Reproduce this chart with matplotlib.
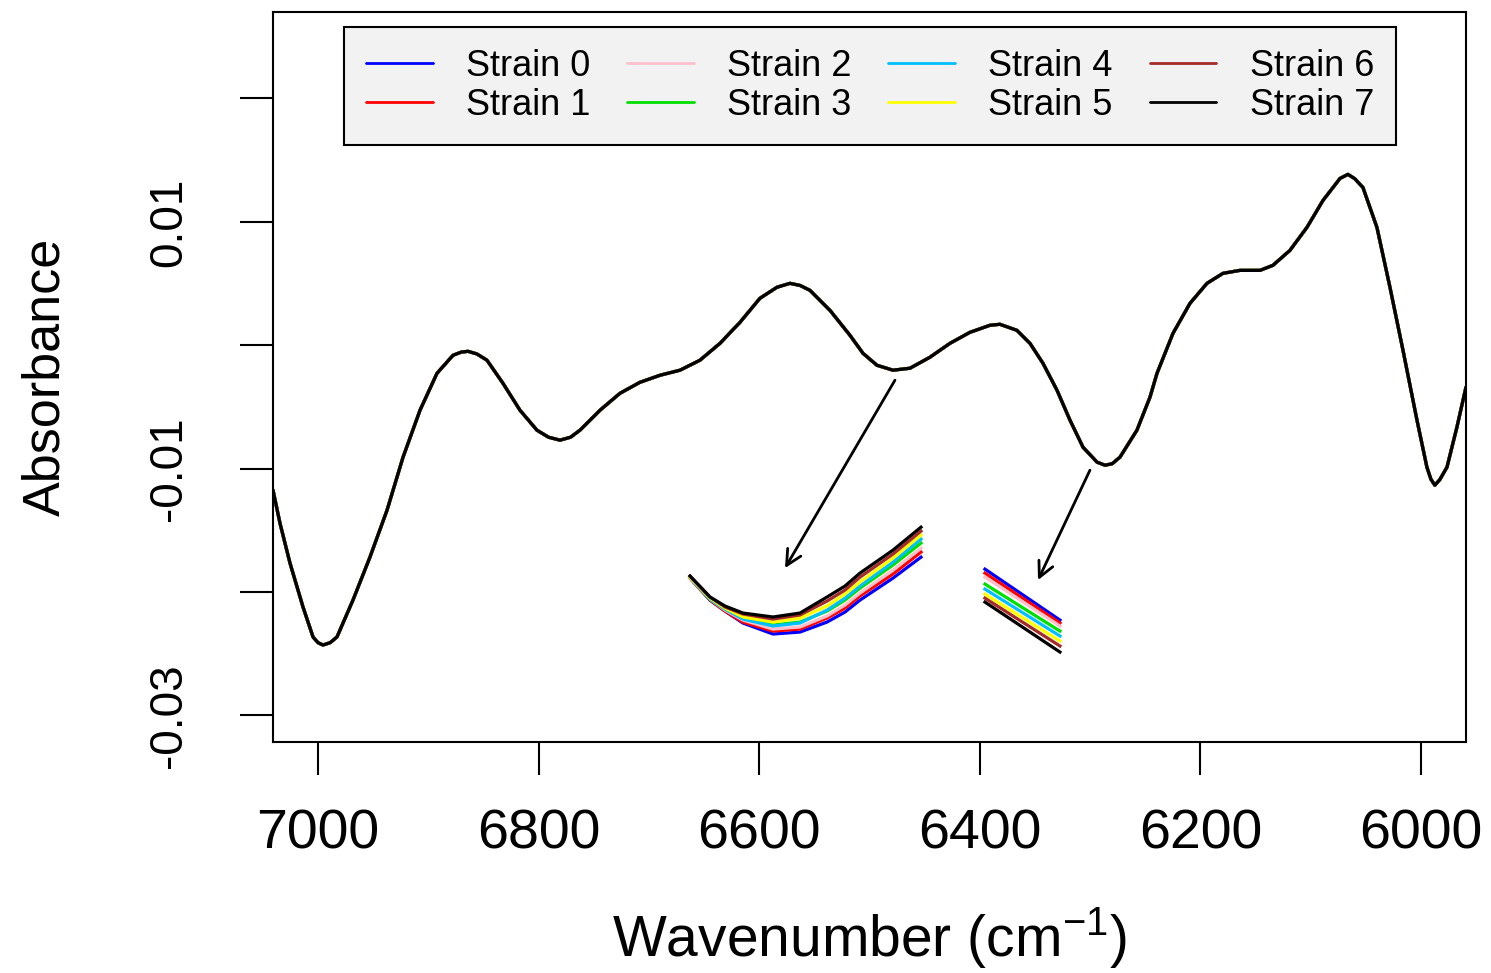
#!/usr/bin/env python3
"""
NIR second-derivative spectra of eight strains, 7040-5960 cm-1,
with two magnified insets showing how the strains separate.
"""

import numpy as np
import matplotlib
matplotlib.use('Agg')
import matplotlib.pyplot as plt

plt.rcParams['font.family'] = ['Liberation Sans', 'DejaVu Sans']
plt.rcParams['mathtext.fontset'] = 'custom'
plt.rcParams['mathtext.rm'] = 'Liberation Sans'
plt.rcParams['mathtext.it'] = 'Liberation Sans:italic'

# strains and their colours (R colour names)
strains = ['Strain 0', 'Strain 1', 'Strain 2', 'Strain 3',
           'Strain 4', 'Strain 5', 'Strain 6', 'Strain 7']
colors = ['#0000ff', '#ff0000', '#ffc0cb', '#00e000',
          '#00bfff', '#ffff00', '#a52a2a', '#000000']

# full spectrum (at this scale the strains overlap)
wavenumber = [7040.8, 7034.5, 7025.4, 7013.6, 7004.5, 7000.0, 6995.5, 6989.0, 6982.8,
              6968.3, 6952.9, 6937.4, 6922.9, 6907.5, 6892.1, 6877.6, 6870.0, 6864.0,
              6856.0, 6846.8, 6832.3, 6816.9, 6801.5, 6791.0, 6780.6, 6771.0, 6762.5,
              6744.3, 6726.2, 6708.1, 6689.9, 6671.8, 6653.7, 6635.5, 6617.4, 6599.3,
              6583.9, 6572.1, 6563.0, 6553.9, 6535.8, 6517.7, 6505.9, 6493.2, 6478.7,
              6463.3, 6445.2, 6427.0, 6408.9, 6390.8, 6381.7, 6366.3, 6354.5, 6342.7,
              6330.0, 6318.2, 6306.4, 6293.7, 6286.5, 6280.0, 6272.9, 6257.5, 6245.7,
              6239.3, 6224.8, 6209.4, 6194.0, 6179.5, 6164.1, 6145.9, 6134.2, 6118.8,
              6103.4, 6088.8, 6073.4, 6066.2, 6060.0, 6052.6, 6039.9, 6028.1, 6016.3,
              6003.6, 5994.6, 5991.0, 5987.4, 5983.0, 5976.4, 5967.4, 5959.2]
absorbance = [-0.01174, -0.01441, -0.01765, -0.02121, -0.02364, -0.02410, -0.02429, -0.02410, -0.02364,
              -0.02065, -0.01717, -0.01336, -0.00907, -0.00526, -0.00227, -0.00081, -0.00055, -0.00049,
              -0.00070, -0.00121, -0.00308, -0.00526, -0.00688, -0.00745, -0.00769, -0.00745, -0.00688,
              -0.00526, -0.00389, -0.00300, -0.00243, -0.00202, -0.00121, 0.00016, 0.00186, 0.00381,
              0.00470, 0.00502, 0.00485, 0.00445, 0.00283, 0.00081, -0.00065, -0.00162, -0.00202,
              -0.00186, -0.00097, 0.00016, 0.00105, 0.00162, 0.00170, 0.00121, 0.00016, -0.00146,
              -0.00364, -0.00607, -0.00826, -0.00947, -0.00972, -0.00960, -0.00907, -0.00688, -0.00421,
              -0.00227, 0.00097, 0.00340, 0.00502, 0.00583, 0.00607, 0.00607, 0.00648, 0.00769,
              0.00955, 0.01174, 0.01352, 0.01385, 0.01350, 0.01279, 0.00955, 0.00470, -0.00040,
              -0.00607, -0.00988, -0.01085, -0.01134, -0.01090, -0.00988, -0.00664, -0.00340]

# magnified inset 1 (drawn below the 6480 band)
inset1_x = [6662.7, 6644.6, 6631.0, 6614.7, 6587.5, 6563.0, 6538.5, 6522.2, 6508.6, 6478.7, 6453.3]
inset1_s0 = [-0.01887, -0.02065, -0.02154, -0.02251, -0.02340, -0.02324, -0.02243, -0.02162, -0.02065, -0.01887, -0.01717]
inset1_s1 = [-0.01887, -0.02065, -0.02154, -0.02243, -0.02316, -0.02300, -0.02211, -0.02130, -0.02032, -0.01854, -0.01676]
inset1_s2 = [-0.01887, -0.02057, -0.02146, -0.02227, -0.02300, -0.02283, -0.02194, -0.02105, -0.02008, -0.01822, -0.01644]
inset1_s3 = [-0.01879, -0.02057, -0.02138, -0.02211, -0.02267, -0.02243, -0.02154, -0.02065, -0.01968, -0.01781, -0.01603]
inset1_s4 = [-0.01879, -0.02057, -0.02138, -0.02219, -0.02275, -0.02251, -0.02146, -0.02049, -0.01951, -0.01757, -0.01571]
inset1_s5 = [-0.01879, -0.02049, -0.02130, -0.02202, -0.02243, -0.02211, -0.02113, -0.02016, -0.01919, -0.01725, -0.01538]
inset1_s6 = [-0.01870, -0.02040, -0.02121, -0.02178, -0.02219, -0.02186, -0.02073, -0.01984, -0.01879, -0.01692, -0.01506]
inset1_s7 = [-0.01870, -0.02040, -0.02113, -0.02170, -0.02202, -0.02170, -0.02040, -0.01951, -0.01846, -0.01660, -0.01474]

# magnified inset 2 (the 6300 band slope)
inset2_x = [6395.3, 6327.3]
inset2_s0 = [-0.01814, -0.02227]
inset2_s1 = [-0.01846, -0.02251]
inset2_s2 = [-0.01879, -0.02275]
inset2_s3 = [-0.01935, -0.02316]
inset2_s4 = [-0.01976, -0.02356]
inset2_s5 = [-0.02016, -0.02397]
inset2_s6 = [-0.02049, -0.02437]
inset2_s7 = [-0.02081, -0.02486]

inset1 = [inset1_s0, inset1_s1, inset1_s2, inset1_s3, inset1_s4, inset1_s5, inset1_s6, inset1_s7]
inset2 = [inset2_s0, inset2_s1, inset2_s2, inset2_s3, inset2_s4, inset2_s5, inset2_s6, inset2_s7]

yticks = [-0.03, -0.02, -0.01, 0.0, 0.01, 0.02]
ytick_labels = ['-0.03', '', '-0.01', '', '0.01', '']
xticks = [7000, 6800, 6600, 6400, 6200, 6000]

fig = plt.figure(figsize=(14.91, 9.73), dpi=100)
ax = fig.add_axes([0.1831, 0.2374, 0.8001, 0.7503])

for name, col in zip(strains, colors):
    ax.plot(wavenumber, absorbance, color=col, linewidth=2.3, label=name,
            solid_joinstyle='round', solid_capstyle='round')

for ys, col in zip(inset1, colors):
    ax.plot(inset1_x, ys, color=col, linewidth=2.3, solid_joinstyle='round')
for ys, col in zip(inset2, colors):
    ax.plot(inset2_x, ys, color=col, linewidth=2.3)

# arrows from the bands to their magnified views
arrow_kw = dict(arrowstyle='->,head_length=1.1,head_width=0.55', color='black', lw=2.0,
                shrinkA=0, shrinkB=0)
ax.annotate('', xy=(6576.6, -0.01806), xytext=(6476.9, -0.00283), arrowprops=arrow_kw)
ax.annotate('', xy=(6347.2, -0.01903), xytext=(6300.1, -0.01012), arrowprops=arrow_kw)

ax.set_xlim(7040.8, 5959.2)
ax.set_ylim(-0.03215, 0.02701)
ax.set_xticks(xticks)
ax.set_xticklabels([str(t) for t in xticks])
ax.set_yticks(yticks)
ax.set_yticklabels(ytick_labels)
for lbl in ax.get_yticklabels():
    lbl.set_rotation(90)
    lbl.set_va('center')

ax.tick_params(axis='x', direction='out', length=24, width=1.5, pad=24, labelsize=40)
ax.tick_params(axis='y', direction='out', length=24, width=1.5, pad=35, labelsize=33)
for spine in ax.spines.values():
    spine.set_linewidth(1.5)

ax.set_xlabel('Wavenumber (cm$^{-1}$)', fontsize=41, labelpad=32)
ax.set_ylabel('Absorbance', fontsize=37.5, labelpad=55)

leg = ax.legend(loc='center', bbox_to_anchor=(0.5004, 0.8990), ncol=4, fontsize=26,
                handlelength=1.85, handletextpad=0.92, columnspacing=1.02,
                labelspacing=0.12, borderpad=0.6, fancybox=False, framealpha=1,
                facecolor='#f2f2f2', edgecolor='black', borderaxespad=0)
leg.get_frame().set_linewidth(1.5)
for line in leg.get_lines():
    line.set_linewidth(2.0)

fig.savefig('out.png', dpi=100, facecolor='white')
